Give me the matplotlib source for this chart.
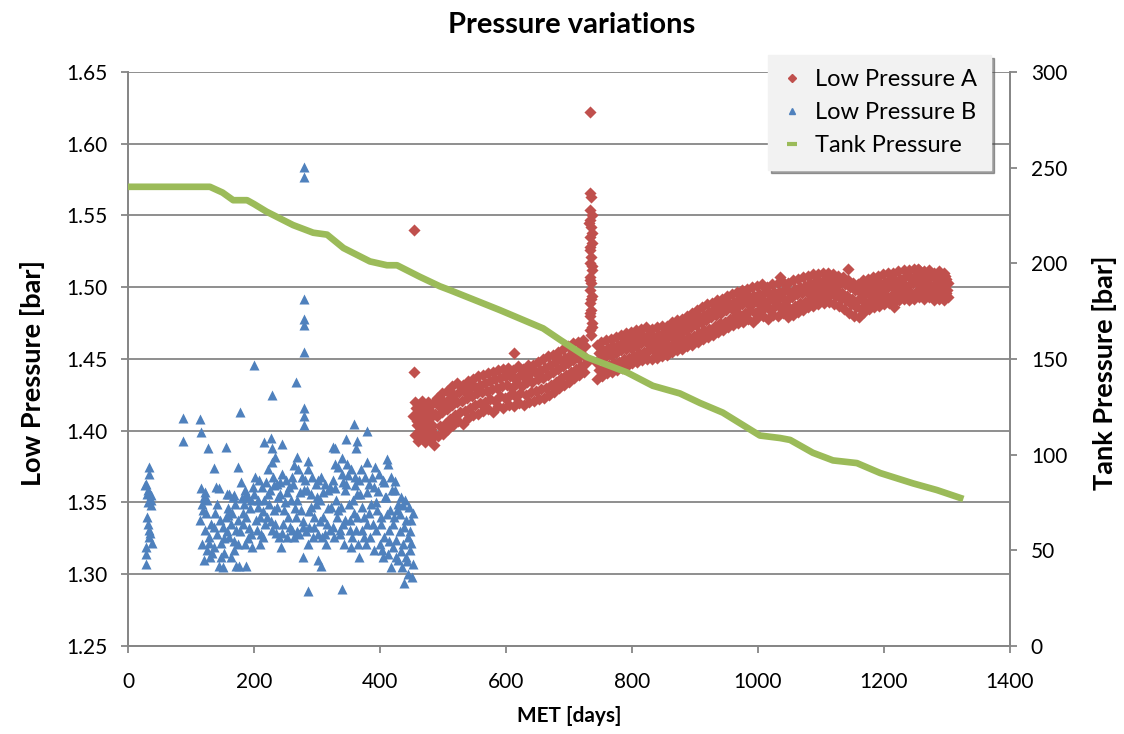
import matplotlib
matplotlib.use("Agg")
import matplotlib.pyplot as plt
from matplotlib.lines import Line2D

# ---------------- data ----------------
tank_day = [0, 130, 150, 167, 189, 200, 220, 262, 294, 316, 342, 384, 411, 427,
            463, 495, 511, 590, 659, 686, 728, 792, 833, 876, 908, 944, 1003,
            1035, 1051, 1087, 1119, 1157, 1194, 1246, 1284, 1321]
tank_val = [240, 240, 237, 233, 233, 231, 227, 220, 216, 215, 208, 201, 199, 199,
            193, 188, 186, 175.6, 166, 160, 151, 143, 136, 132, 127, 122, 110,
            108.7, 107.7, 101, 97, 95.6, 90.4, 85, 81.5, 77.4]

blue_day = [
    33, 34, 29, 31, 30, 37, 32, 37, 31, 33, 35, 38, 28, 29, 28, 30, 36, 34, 27,
    88, 88, 115, 116, 127, 155, 137, 175, 178, 200, 228, 266, 280, 280, 280, 280, 280, 280,
    280, 280, 280, 359, 380, 145, 157, 168, 181, 216, 227, 229, 244, 233, 229, 268, 286,
    325, 329, 346, 363, 362, 340, 379, 411, 424, 285, 340, 438, 451, 278, 307, 302, 187,
    172, 150, 354, 366,
    116, 120, 118, 124, 115, 122, 128, 117, 125, 130, 121, 132, 126,
    140, 138, 146, 150, 142, 153, 137, 148, 144, 155,
    160, 166, 170, 158, 164, 172, 161, 175, 168, 163, 176,
    180, 186, 190, 184, 194, 188, 182, 196, 191, 185, 197,
    202, 208, 212, 200, 216, 206, 210, 218, 204, 214, 209,
    222, 230, 236, 226, 238, 224, 232, 220, 234, 228, 239,
    244, 250, 256, 242, 258, 248, 254, 246, 260, 252, 243,
    264, 270, 276, 262, 280, 268, 274, 266, 278, 272, 263,
    286, 292, 298, 284, 300, 290, 296, 288, 302, 294, 285,
    306, 312, 318, 304, 322, 310, 316, 320, 308, 314,
    328, 334, 340, 326, 344, 330, 338, 332, 342, 336, 327, 343,
    348, 354, 360, 346, 364, 350, 358, 352, 362, 356, 365,
    370, 376, 382, 368, 386, 374, 380, 372, 384, 378,
    392, 398, 404, 390, 408, 396, 402, 394, 406, 400, 391, 405,
    412, 418, 424, 410, 428, 416, 422, 414, 426, 420, 413, 429, 418,
    434, 440, 446, 432, 450, 438, 444, 436, 448, 442, 452, 435,
    119, 123, 129, 133, 136, 141, 147, 152, 157, 159, 165, 169, 174, 178, 183,
    187, 192, 195, 199, 203, 207, 211, 215, 219, 223, 227, 231, 235, 237, 241,
    245, 249, 253, 257, 261, 265, 269, 273, 277, 281, 283, 287, 291, 295, 299,
    301, 305, 309, 313, 317, 321, 325, 329, 333, 337, 341, 345, 349, 353, 357,
    361, 363, 367, 371, 375, 379, 383, 387, 389, 393, 397, 401, 403, 407, 411,
    415, 419, 421, 425, 427, 431, 433, 437, 441, 443, 447, 449, 453, 445,
]
blue_val = [
    1.375, 1.370, 1.363, 1.359, 1.356, 1.355, 1.350, 1.348, 1.335, 1.331, 1.329, 1.322, 1.319, 1.314, 1.307,
    1.340, 1.352, 1.326, 1.362,
    1.409, 1.393, 1.408, 1.399, 1.388, 1.389, 1.374, 1.375, 1.413, 1.446, 1.425, 1.434, 1.584, 1.577, 1.492,
    1.478, 1.474, 1.455, 1.416, 1.410, 1.404, 1.405, 1.400, 1.360, 1.356, 1.355, 1.353, 1.392, 1.395, 1.388,
    1.391, 1.382, 1.378, 1.382, 1.379, 1.389, 1.388, 1.394, 1.393, 1.388, 1.381, 1.378, 1.380, 1.365, 1.288,
    1.290, 1.294, 1.298, 1.312, 1.306, 1.310, 1.306, 1.306, 1.305, 1.319, 1.312,
    1.360, 1.354, 1.349, 1.343, 1.338, 1.331, 1.326, 1.321, 1.317, 1.312, 1.310, 1.335, 1.352,
    1.361, 1.343, 1.338, 1.333, 1.328, 1.325, 1.319, 1.312, 1.306, 1.340,
    1.356, 1.354, 1.349, 1.341, 1.335, 1.331, 1.326, 1.321, 1.317, 1.312, 1.306,
    1.364, 1.359, 1.354, 1.349, 1.346, 1.340, 1.335, 1.328, 1.325, 1.321, 1.319,
    1.368, 1.366, 1.361, 1.356, 1.352, 1.347, 1.340, 1.335, 1.331, 1.326, 1.321,
    1.373, 1.368, 1.363, 1.359, 1.354, 1.349, 1.345, 1.340, 1.335, 1.331, 1.326,
    1.370, 1.366, 1.361, 1.356, 1.352, 1.345, 1.340, 1.335, 1.331, 1.326, 1.319,
    1.376, 1.373, 1.368, 1.363, 1.359, 1.352, 1.345, 1.340, 1.333, 1.328, 1.326,
    1.373, 1.368, 1.363, 1.359, 1.354, 1.347, 1.340, 1.333, 1.328, 1.326, 1.321,
    1.368, 1.363, 1.359, 1.352, 1.347, 1.340, 1.335, 1.331, 1.326, 1.321,
    1.377, 1.375, 1.370, 1.366, 1.359, 1.352, 1.347, 1.340, 1.335, 1.331, 1.326, 1.321,
    1.377, 1.373, 1.368, 1.363, 1.356, 1.349, 1.343, 1.338, 1.331, 1.326, 1.321,
    1.373, 1.368, 1.363, 1.356, 1.349, 1.340, 1.335, 1.331, 1.326, 1.321,
    1.375, 1.370, 1.366, 1.361, 1.354, 1.345, 1.335, 1.331, 1.326, 1.321, 1.317, 1.312,
    1.377, 1.368, 1.359, 1.354, 1.349, 1.345, 1.340, 1.331, 1.324, 1.319, 1.314, 1.310, 1.305,
    1.354, 1.352, 1.347, 1.342, 1.338, 1.333, 1.326, 1.321, 1.317, 1.312, 1.307, 1.305,
    1.345, 1.357, 1.322, 1.315, 1.333, 1.349, 1.322, 1.315, 1.330, 1.346, 1.343, 1.323, 1.338, 1.330, 1.343,
    1.356, 1.332, 1.352, 1.361, 1.338, 1.352, 1.328, 1.344, 1.364, 1.356, 1.337, 1.362, 1.329, 1.347, 1.364,
    1.329, 1.350, 1.357, 1.333, 1.368, 1.346, 1.330, 1.357, 1.337, 1.366, 1.330, 1.344, 1.356, 1.333, 1.349,
    1.366, 1.337, 1.357, 1.328, 1.346, 1.361, 1.333, 1.360, 1.345, 1.328, 1.364, 1.338, 1.369, 1.331, 1.352,
    1.362, 1.340, 1.366, 1.347, 1.326, 1.357, 1.343, 1.368, 1.335, 1.350, 1.358, 1.340, 1.317, 1.364, 1.342,
    1.323, 1.359, 1.335, 1.312, 1.345, 1.330, 1.316, 1.348, 1.338, 1.309, 1.330, 1.322, 1.343, 1.300,
]

red_day = [
    454, 454, 612, 734,
    455, 458, 453, 457, 455, 460, 462, 459, 464, 461, 466, 469, 465, 468, 467,
    472, 475, 470, 474, 473, 478, 481, 477, 480, 476, 485, 488, 483, 487, 484,
    492, 495, 490, 494, 491, 500, 503, 498, 502, 499, 508, 511, 506, 510, 507,
    516, 519, 514, 518, 515, 524, 527, 522, 526, 523, 532, 535, 530, 534, 531,
    540, 543, 538, 542, 539, 548, 551, 546, 550, 547, 556, 559, 554, 558, 555,
    564, 567, 562, 566, 563, 572, 575, 570, 574, 571, 580, 583, 578, 582, 579,
    588, 591, 586, 590, 587, 596, 599, 594, 598, 595, 604, 607, 602, 606, 603,
    612, 615, 610, 614, 611, 620, 623, 618, 622, 619, 628, 631, 626, 630, 627,
    636, 639, 634, 638, 635, 644, 647, 642, 646, 643, 652, 655, 650, 654, 651,
    660, 663, 658, 662, 659, 668, 671, 666, 670, 667, 676, 679, 674, 678, 675,
    684, 687, 682, 686, 683, 692, 695, 690, 694, 691, 700, 703, 698, 702, 699,
    708, 711, 706, 710, 707, 716, 719, 714, 718, 715, 724, 727, 722, 726, 723,
    733, 735, 734, 736, 733, 735, 734, 736, 733, 735, 734, 736, 733, 735, 734,
    736, 733, 735, 734, 736, 733, 735, 732, 737, 734, 736, 733, 735, 734, 737,
    745, 748, 743, 747, 744, 752, 755, 750, 754, 751, 760, 763, 758, 762, 759,
    768, 771, 766, 770, 767, 776, 779, 774, 778, 775, 784, 787, 782, 786, 783,
    792, 795, 790, 794, 791, 800, 803, 798, 802, 799, 808, 811, 806, 810, 807,
    816, 819, 814, 818, 815, 824, 827, 822, 826, 823, 832, 835, 830, 834, 831,
    840, 843, 838, 842, 839, 848, 851, 846, 850, 847, 856, 859, 854, 858, 855,
    864, 867, 862, 866, 863, 872, 875, 870, 874, 871, 880, 883, 878, 882, 879,
    888, 891, 886, 890, 887, 896, 899, 894, 898, 895, 904, 907, 902, 906, 903,
    912, 915, 910, 914, 911, 920, 923, 918, 922, 919, 928, 931, 926, 930, 927,
    936, 939, 934, 938, 935, 944, 947, 942, 946, 943, 952, 955, 950, 954, 951,
    960, 963, 958, 962, 959, 968, 971, 966, 970, 967, 976, 979, 974, 978, 975,
    984, 987, 982, 986, 983, 992, 995, 990, 994, 991, 1000, 1003, 998, 1002, 999,
    1008, 1011, 1006, 1010, 1007, 1016, 1019, 1014, 1018, 1015, 1024, 1027, 1022, 1026, 1023,
    1032, 1035, 1030, 1034, 1031, 1040, 1043, 1038, 1042, 1039, 1048, 1051, 1046, 1050, 1047,
    1056, 1059, 1054, 1058, 1055, 1064, 1067, 1062, 1066, 1063, 1072, 1075, 1070, 1074, 1071,
    1080, 1083, 1078, 1082, 1079, 1088, 1091, 1086, 1090, 1087, 1096, 1099, 1094, 1098, 1095,
    1104, 1107, 1102, 1106, 1103, 1112, 1115, 1110, 1114, 1111, 1120, 1123, 1118, 1122, 1119,
    1128, 1131, 1126, 1130, 1127, 1136, 1139, 1134, 1138, 1135, 1144, 1147, 1142, 1146, 1143,
    1152, 1155, 1150, 1154, 1151, 1160, 1163, 1158, 1162, 1159, 1168, 1171, 1166, 1170, 1167,
    1176, 1179, 1174, 1178, 1175, 1184, 1187, 1182, 1186, 1183, 1192, 1195, 1190, 1194, 1191,
    1200, 1203, 1198, 1202, 1199, 1208, 1211, 1206, 1210, 1207, 1216, 1219, 1214, 1218, 1215,
    1224, 1227, 1222, 1226, 1223, 1232, 1235, 1230, 1234, 1231, 1240, 1243, 1238, 1242, 1239,
    1248, 1251, 1246, 1250, 1247, 1256, 1259, 1254, 1258, 1255, 1264, 1267, 1262, 1266, 1263,
    1272, 1275, 1270, 1274, 1271, 1280, 1283, 1278, 1282, 1279, 1288, 1291, 1286, 1290, 1287,
    1296, 1299, 1294, 1298, 1295, 1302, 1300, 1301, 1297,
    1035, 1143, 1254, 1216, 1008,
]
red_val = [
    1.540, 1.441, 1.454, 1.622,
    1.397, 1.404, 1.410, 1.416, 1.420, 1.393, 1.400, 1.407, 1.413, 1.418, 1.395, 1.402, 1.409, 1.415, 1.421,
    1.392, 1.398, 1.405, 1.411, 1.417, 1.394, 1.401, 1.408, 1.414, 1.420, 1.390, 1.397, 1.404, 1.412, 1.419,
    1.396, 1.403, 1.410, 1.417, 1.423, 1.398, 1.405, 1.413, 1.420, 1.426, 1.401, 1.408, 1.415, 1.422, 1.428,
    1.404, 1.411, 1.418, 1.425, 1.431, 1.407, 1.413, 1.420, 1.427, 1.433, 1.405, 1.414, 1.421, 1.428, 1.432,
    1.409, 1.416, 1.423, 1.429, 1.435, 1.411, 1.418, 1.424, 1.431, 1.436, 1.412, 1.419, 1.426, 1.432, 1.438,
    1.414, 1.420, 1.427, 1.433, 1.439, 1.415, 1.422, 1.428, 1.435, 1.440, 1.413, 1.421, 1.429, 1.436, 1.441,
    1.417, 1.424, 1.430, 1.437, 1.442, 1.416, 1.423, 1.431, 1.438, 1.443, 1.418, 1.425, 1.432, 1.438, 1.444,
    1.417, 1.424, 1.430, 1.436, 1.442, 1.419, 1.426, 1.433, 1.439, 1.445, 1.418, 1.425, 1.431, 1.437, 1.443,
    1.420, 1.427, 1.434, 1.440, 1.446, 1.421, 1.428, 1.434, 1.441, 1.446, 1.422, 1.429, 1.436, 1.442, 1.448,
    1.423, 1.430, 1.437, 1.444, 1.450, 1.425, 1.432, 1.439, 1.446, 1.452, 1.427, 1.434, 1.441, 1.448, 1.453,
    1.430, 1.437, 1.443, 1.450, 1.455, 1.432, 1.439, 1.445, 1.451, 1.457, 1.434, 1.441, 1.447, 1.453, 1.459,
    1.437, 1.443, 1.449, 1.455, 1.461, 1.439, 1.445, 1.451, 1.457, 1.462, 1.441, 1.447, 1.453, 1.459, 1.463,
    1.566, 1.563, 1.554, 1.550, 1.547, 1.542, 1.535, 1.531, 1.526, 1.521, 1.517, 1.512, 1.507, 1.503, 1.498,
    1.494, 1.489, 1.484, 1.480, 1.475, 1.470, 1.467, 1.545, 1.538, 1.528, 1.515, 1.505, 1.492, 1.482, 1.472,
    1.436, 1.442, 1.448, 1.454, 1.460, 1.438, 1.444, 1.450, 1.456, 1.462, 1.440, 1.446, 1.452, 1.458, 1.463,
    1.441, 1.447, 1.453, 1.459, 1.464, 1.442, 1.448, 1.454, 1.460, 1.465, 1.444, 1.450, 1.456, 1.462, 1.467,
    1.445, 1.451, 1.457, 1.463, 1.468, 1.447, 1.452, 1.458, 1.464, 1.469, 1.448, 1.454, 1.459, 1.465, 1.470,
    1.449, 1.455, 1.461, 1.466, 1.471, 1.450, 1.456, 1.462, 1.467, 1.472, 1.450, 1.456, 1.461, 1.466, 1.471,
    1.451, 1.457, 1.462, 1.467, 1.472, 1.452, 1.458, 1.463, 1.468, 1.473, 1.453, 1.459, 1.464, 1.469, 1.473,
    1.455, 1.461, 1.466, 1.471, 1.476, 1.456, 1.462, 1.467, 1.472, 1.477, 1.457, 1.463, 1.468, 1.473, 1.478,
    1.459, 1.465, 1.470, 1.475, 1.480, 1.460, 1.466, 1.472, 1.477, 1.482, 1.462, 1.468, 1.474, 1.479, 1.484,
    1.464, 1.470, 1.476, 1.481, 1.486, 1.465, 1.471, 1.477, 1.483, 1.488, 1.467, 1.473, 1.479, 1.484, 1.489,
    1.469, 1.475, 1.481, 1.486, 1.491, 1.470, 1.476, 1.482, 1.487, 1.492, 1.472, 1.478, 1.484, 1.489, 1.494,
    1.474, 1.480, 1.485, 1.490, 1.495, 1.475, 1.481, 1.486, 1.492, 1.497, 1.476, 1.482, 1.488, 1.493, 1.498,
    1.478, 1.484, 1.489, 1.494, 1.499, 1.476, 1.482, 1.488, 1.494, 1.500, 1.479, 1.485, 1.490, 1.495, 1.501,
    1.480, 1.486, 1.491, 1.496, 1.502, 1.478, 1.484, 1.490, 1.495, 1.500, 1.481, 1.487, 1.492, 1.497, 1.502,
    1.480, 1.486, 1.491, 1.497, 1.503, 1.482, 1.488, 1.493, 1.498, 1.504, 1.479, 1.485, 1.491, 1.497, 1.503,
    1.481, 1.487, 1.493, 1.499, 1.505, 1.483, 1.489, 1.495, 1.500, 1.506, 1.484, 1.490, 1.496, 1.501, 1.507,
    1.486, 1.492, 1.497, 1.503, 1.508, 1.487, 1.493, 1.498, 1.504, 1.509, 1.488, 1.494, 1.499, 1.504, 1.509,
    1.489, 1.494, 1.499, 1.505, 1.510, 1.490, 1.495, 1.500, 1.505, 1.510, 1.488, 1.494, 1.499, 1.504, 1.509,
    1.487, 1.492, 1.498, 1.503, 1.508, 1.485, 1.491, 1.496, 1.502, 1.507, 1.482, 1.488, 1.494, 1.500, 1.505,
    1.480, 1.486, 1.492, 1.498, 1.503, 1.479, 1.485, 1.491, 1.497, 1.502, 1.483, 1.489, 1.494, 1.500, 1.505,
    1.485, 1.491, 1.496, 1.501, 1.506, 1.486, 1.492, 1.497, 1.502, 1.507, 1.487, 1.493, 1.498, 1.503, 1.508,
    1.488, 1.494, 1.499, 1.504, 1.509, 1.489, 1.494, 1.500, 1.505, 1.510, 1.490, 1.495, 1.500, 1.505, 1.510,
    1.491, 1.496, 1.501, 1.506, 1.511, 1.492, 1.497, 1.502, 1.507, 1.512, 1.491, 1.496, 1.501, 1.507, 1.512,
    1.492, 1.497, 1.503, 1.508, 1.513, 1.493, 1.498, 1.503, 1.508, 1.512, 1.492, 1.497, 1.502, 1.507, 1.511,
    1.493, 1.498, 1.503, 1.508, 1.512, 1.491, 1.496, 1.501, 1.506, 1.510, 1.492, 1.497, 1.502, 1.507, 1.511,
    1.491, 1.496, 1.501, 1.506, 1.510, 1.493, 1.498, 1.503, 1.508,
    1.507, 1.513, 1.513, 1.486, 1.501,
]

x_ticks = [0, 200, 400, 600, 800, 1000, 1200, 1400]
left_ticks = [1.25, 1.30, 1.35, 1.40, 1.45, 1.50, 1.55, 1.60, 1.65]
right_ticks = [0, 50, 100, 150, 200, 250, 300]

# ---------------- style ----------------
RED = "#C0504D"
BLUE = "#4F81BD"
GREEN = "#9BBB59"
GRAY = "#868686"
FONT = ["Lato", "DejaVu Sans"]
plt.rcParams["font.family"] = FONT

fig = plt.figure(figsize=(11.24, 7.34), dpi=100)
ax = fig.add_axes([128 / 1124, 1 - 646 / 734, (1010 - 128) / 1124, (646 - 72) / 734])
ax2 = ax.twinx()

ax.scatter(blue_day, blue_val, marker="^", s=52, color=BLUE, linewidths=0, zorder=3)
ax.scatter(red_day, red_val, marker="D", s=38, color=RED, linewidths=0, zorder=3)
ax2.plot(tank_day, tank_val, color=GREEN, lw=4.8, solid_joinstyle="round", zorder=3)

ax.set_xlim(0, 1400)
ax.set_ylim(1.25, 1.65)
ax2.set_ylim(0, 300)
ax.set_xticks(x_ticks)
ax.set_yticks(left_ticks)
ax.set_yticklabels([f"{v:.2f}" for v in left_ticks])
ax2.set_yticks(right_ticks)

ax.grid(axis="y", color=GRAY, lw=1.3)
ax.set_axisbelow(True)
for a in (ax, ax2):
    for side in ("left", "right", "bottom"):
        a.spines[side].set_color(GRAY)
        a.spines[side].set_linewidth(1.3)
    a.spines["top"].set_visible(False)
    a.tick_params(colors=GRAY, labelcolor="black", labelsize=15, length=5, width=1.3)
ax.tick_params(axis="x", pad=14)
ax.tick_params(axis="y", pad=10)
ax2.tick_params(axis="y", pad=10)

ax.set_xlabel("MET [days]", fontsize=15, fontweight="bold", labelpad=10)
ax.set_ylabel("Low Pressure [bar]", fontsize=19.5, fontweight="bold")
ax2.set_ylabel("Tank Pressure [bar]", fontsize=19.5, fontweight="bold")
ax.yaxis.set_label_coords(-0.094, 0.476)
ax2.yaxis.set_label_coords(1.093, 0.476)
fig.text(0.509, 0.966, "Pressure variations", ha="center", va="center",
         fontsize=21, fontweight="bold")

handles = [
    Line2D([], [], marker="D", color=RED, ls="none", markersize=4),
    Line2D([], [], marker="^", color=BLUE, ls="none", markersize=5),
    Line2D([], [], marker="_", color=GREEN, ls="none", markersize=7, mew=3),
]
leg = fig.legend(handles, ["Low Pressure A", "Low Pressure B", "Tank Pressure"],
                 loc="upper left", bbox_to_anchor=(768 / 1124, 1 - 55 / 734),
                 borderaxespad=0, fontsize=17, frameon=True, fancybox=False, shadow=True,
                 handlelength=0.8, handletextpad=0.6, labelspacing=0.5,
                 borderpad=0.6)
leg.get_frame().set_facecolor("#F2F2F2")
leg.get_frame().set_edgecolor("#F2F2F2")
leg.set_zorder(10)

fig.savefig("out.png", dpi=100)
